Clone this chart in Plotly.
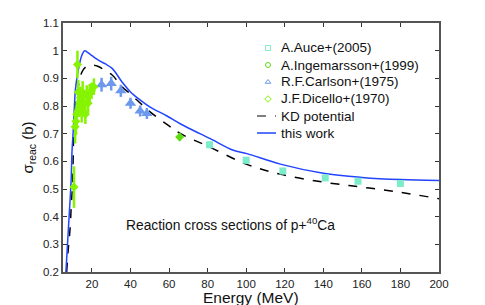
import plotly.graph_objects as go

# ---- data ----
auce_E = [81, 100, 119, 141, 158, 180]
auce_s = [0.660, 0.604, 0.565, 0.540, 0.528, 0.520]
auce_err = [0.012, 0.012, 0.012, 0.008, 0.008, 0.008]

ing_E = [65.5]
ing_s = [0.688]
ing_err = [0.015]

carl_E = [25.0, 30.0, 35.0, 40.0, 45.0, 48.5]
carl_s = [0.877, 0.881, 0.855, 0.810, 0.782, 0.773]
carl_err = [0.025, 0.025, 0.022, 0.020, 0.020, 0.020]

dic_E = [10.7, 11.3, 11.7, 12.1, 12.5, 12.9, 13.5, 14.0, 14.7, 15.2, 16.0, 16.6, 17.3, 18.0, 18.8, 19.8, 21.0]
dic_s = [0.507, 0.725, 0.745, 0.770, 0.950, 0.850, 0.800, 0.830, 0.780, 0.850, 0.810, 0.770, 0.840, 0.810, 0.845, 0.855, 0.870]
dic_err = [0.075, 0.06, 0.05, 0.05, 0.05, 0.045, 0.04, 0.04, 0.04, 0.04, 0.04, 0.035, 0.035, 0.035, 0.035, 0.03, 0.03]

kd_E = [6.9, 7.7, 8.6, 9.3, 10.0, 10.6, 11.4, 12.2, 13.2, 14.9, 17.0, 20.0, 23.0, 26.0, 30.5, 35.6, 40.0, 50.0, 60.0, 66.0, 81.0, 100.0, 118.0, 140.0, 160.0, 180.0, 200.0]
kd_s = [0.200, 0.280, 0.350, 0.440, 0.530, 0.710, 0.797, 0.845, 0.880, 0.924, 0.942, 0.948, 0.944, 0.932, 0.912, 0.870, 0.843, 0.780, 0.728, 0.700, 0.652, 0.590, 0.553, 0.525, 0.507, 0.488, 0.465]

tw_E = [6.5, 7.0, 7.75, 8.5, 9.2, 9.7, 10.4, 11.4, 12.3, 13.5, 14.5, 15.5, 16.3, 17.2, 18.5, 20.1, 22.0, 24.2, 27.0, 30.5, 35.6, 40.0, 45.0, 50.0, 58.9, 66.0, 76.0, 81.4, 93.3, 100.4, 117.7, 140.0, 160.0, 180.0, 200.0]
tw_s = [0.200, 0.260, 0.350, 0.440, 0.530, 0.640, 0.720, 0.857, 0.905, 0.950, 0.978, 0.994, 1.000, 0.997, 0.990, 0.982, 0.972, 0.962, 0.952, 0.936, 0.887, 0.851, 0.822, 0.797, 0.764, 0.735, 0.700, 0.682, 0.640, 0.628, 0.590, 0.557, 0.542, 0.534, 0.531]

x_ticks = [20, 40, 60, 80, 100, 120, 140, 160, 180, 200]
y_ticks = [0.2, 0.3, 0.4, 0.5, 0.6, 0.7, 0.8, 0.9, 1.0, 1.1]
y_tick_text = ["0.2", "0.3", "0.4", "0.5", "0.6", "0.7", "0.8", "0.9", "1", "1.1"]

legend_names = ["A.Auce+(2005)", "A.Ingemarsson+(1999)", "R.F.Carlson+(1975)",
                "J.F.Dicello+(1970)", "KD potential", "this work"]

c_auce = "#7deccb"
c_ing = "#5fdc10"
c_carl = "#6c98ee"
c_dic = "#86f400"
c_tw = "#2244ff"

fig = go.Figure()

# lines (drawn under points)
fig.add_trace(go.Scatter(x=kd_E, y=kd_s, mode="lines", line=dict(color="black", width=1.5, dash="dash"),
                         line_shape="spline", showlegend=False))
fig.add_trace(go.Scatter(x=tw_E, y=tw_s, mode="lines", line=dict(color=c_tw, width=1.5),
                         line_shape="spline", showlegend=False))

# data points
fig.add_trace(go.Scatter(x=auce_E, y=auce_s, mode="markers",
                         marker=dict(symbol="square", size=7, color=c_auce),
                         error_y=dict(type="data", array=auce_err, color=c_auce, thickness=2, width=0),
                         showlegend=False))
fig.add_trace(go.Scatter(x=ing_E, y=ing_s, mode="markers",
                         marker=dict(symbol="diamond", size=7, color=c_ing),
                         error_y=dict(type="data", array=ing_err, color=c_ing, thickness=2, width=0),
                         showlegend=False))
fig.add_trace(go.Scatter(x=carl_E, y=carl_s, mode="markers",
                         marker=dict(symbol="triangle-up", size=10, color=c_carl),
                         error_y=dict(type="data", array=carl_err, color=c_carl, thickness=2.5, width=0),
                         showlegend=False))
fig.add_trace(go.Scatter(x=dic_E, y=dic_s, mode="markers",
                         marker=dict(symbol="diamond", size=7, color=c_dic),
                         error_y=dict(type="data", array=dic_err, color=c_dic, thickness=2.5, width=0),
                         showlegend=False))

# ---- manual legend (overlay axis in 0..1 units of the plot area) ----
leg_sym_x = 0.5452
leg_txt_x = 0.5745
leg_rows = [0.8996, 0.8313, 0.7631, 0.6948, 0.6265, 0.5582]
leg_syms = ["square-open", "circle-open", "triangle-up-open", "diamond-open"]
leg_cols = [c_auce, c_ing, c_carl, c_dic]
for sym, col, yy in zip(leg_syms, leg_cols, leg_rows[:4]):
    fig.add_trace(go.Scatter(x=[leg_sym_x], y=[yy], xaxis="x2", yaxis="y2", mode="markers",
                             marker=dict(symbol=sym, size=5, color=col, line=dict(width=1)),
                             showlegend=False, hoverinfo="skip"))
fig.add_shape(type="line", xref="paper", yref="paper", x0=0.516, x1=0.5665,
              y0=leg_rows[4], y1=leg_rows[4], line=dict(color="black", width=1.2, dash="dash"))
fig.add_shape(type="line", xref="paper", yref="paper", x0=0.516, x1=0.5665,
              y0=leg_rows[5], y1=leg_rows[5], line=dict(color=c_tw, width=1.5))
for name, yy in zip(legend_names, leg_rows):
    fig.add_annotation(x=leg_txt_x, y=yy, xref="paper", yref="paper", text=name,
                       xanchor="left", yanchor="middle", showarrow=False,
                       font=dict(size=13.5, color="#111"))

fig.add_annotation(x=0.445, y=0.193, xref="paper", yref="paper",
                   text="Reaction cross sections of p+<sup>40</sup>Ca",
                   xanchor="center", yanchor="middle",
                   showarrow=False, font=dict(size=13.8, color="#111"))

# x-axis title placed as annotation below the tick labels
fig.add_annotation(x=0.5, y=-0.103, xref="paper", yref="paper", text="Energy (MeV)",
                   xanchor="center", yanchor="middle", showarrow=False,
                   font=dict(size=15.5, color="#111"))

fnt = "Liberation Sans, Arial, sans-serif"
fig.update_layout(
    width=485, height=305,
    margin=dict(l=63, r=46, t=23, b=33, autoexpand=False),
    paper_bgcolor="white", plot_bgcolor="white",
    font=dict(family=fnt, size=11, color="#222"),
    showlegend=False,
    xaxis=dict(range=[5, 200], tickvals=x_ticks, ticks="inside", ticklen=4, tickcolor="#333",
               showgrid=False, zeroline=False, showline=True, linecolor="#555", linewidth=1.5,
               mirror="ticks", tickfont=dict(size=11.5), automargin=False),
    yaxis=dict(range=[0.2, 1.1001], tickvals=y_ticks, ticktext=y_tick_text, ticks="inside", ticklen=4,
               tickcolor="#333", showgrid=False, zeroline=False, showline=True, linecolor="#555",
               linewidth=1.5, mirror="ticks", tickfont=dict(size=11.5), automargin=False,
               title=dict(text="σ<sub>reac</sub> (b)", font=dict(size=15, color="#111"), standoff=6)),
    xaxis2=dict(overlaying="x", range=[0, 1], visible=False, fixedrange=True, automargin=False),
    yaxis2=dict(overlaying="y", range=[0, 1], visible=False, fixedrange=True, automargin=False),
)

fig.write_html("out.html", config={"displayModeBar": False},
               post_script="document.body.style.margin='0';")
